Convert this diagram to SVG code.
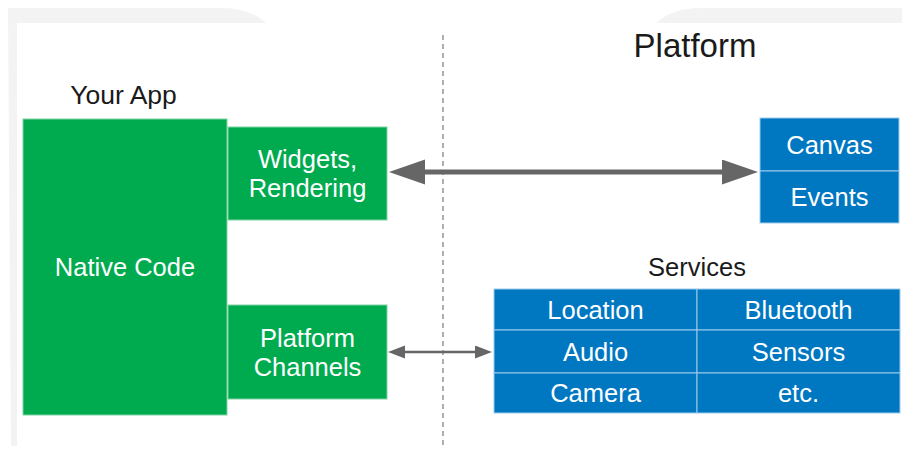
<svg xmlns="http://www.w3.org/2000/svg" width="902" height="449" viewBox="0 0 902 449">
<style>
.t{font-family:"Liberation Sans",Arial,sans-serif;font-size:25.5px;text-anchor:middle}
.w{fill:#ffffff}
.k{fill:#1a1a1a}
.g{fill:#00ab4f;stroke:#7fd3a2;stroke-width:1}
.b{fill:#0077c1;stroke:#9ccbeb;stroke-width:1}
.arr{stroke:#666666;fill:none}
</style>
<defs>
<marker id="bigHead" markerUnits="userSpaceOnUse" markerWidth="38" markerHeight="26" refX="2" refY="12.5" orient="auto-start-reverse" viewBox="0 0 38 26">
<path d="M0,0 L36,12.5 L0,25 Z" fill="#666666"/>
</marker>
<marker id="smallHead" markerUnits="userSpaceOnUse" markerWidth="18" markerHeight="14" refX="1" refY="6.5" orient="auto-start-reverse" viewBox="0 0 18 14">
<path d="M0,0 L17,6.5 L0,13 Z" fill="#666666"/>
</marker>
</defs>
<rect x="0" y="0" width="902" height="449" fill="#ffffff"/>
<g id="frame" fill="#f3f3f3">
<path d="M8,8 H222 Q250,8 266,23 H17 V446 H11 Z"/>
<path d="M656,23 Q672,8 702,8 H902 V23 Z"/>
</g>
<line x1="443" y1="35" x2="443" y2="449" stroke="#7a7a7a" stroke-width="1.2" stroke-dasharray="5,4"/>
<text class="t k" x="123.5" y="104" style="font-size:26.5px">Your App</text>
<text class="t k" x="695" y="57" style="font-size:33px">Platform</text>
<text class="t k" x="697" y="276">Services</text>
<g id="native-code">
<rect class="g" x="23" y="119" width="204" height="296"/>
<text class="t w" x="125" y="276">Native Code</text>
</g>
<g id="widgets-rendering">
<rect class="g" x="228" y="127" width="159" height="93"/>
<text class="t w" x="307.5" y="168">Widgets,</text>
<text class="t w" x="307.5" y="197">Rendering</text>
</g>
<g id="platform-channels">
<rect class="g" x="228" y="305" width="159" height="94"/>
<text class="t w" x="307.5" y="346.5">Platform</text>
<text class="t w" x="307.5" y="375.5">Channels</text>
</g>
<g id="canvas">
<rect class="b" x="760" y="118" width="139" height="53"/>
<text class="t w" x="829.5" y="153.5">Canvas</text>
</g>
<g id="events">
<rect class="b" x="760" y="171" width="139" height="52"/>
<text class="t w" x="829.5" y="206">Events</text>
</g>
<g id="location">
<rect class="b" x="494" y="289" width="203" height="41"/>
<text class="t w" x="595.5" y="318.5">Location</text>
</g>
<g id="bluetooth">
<rect class="b" x="697" y="289" width="203" height="41"/>
<text class="t w" x="798.5" y="318.5">Bluetooth</text>
</g>
<g id="audio">
<rect class="b" x="494" y="330" width="203" height="43"/>
<text class="t w" x="595.5" y="360.5">Audio</text>
</g>
<g id="sensors">
<rect class="b" x="697" y="330" width="203" height="43"/>
<text class="t w" x="798.5" y="360.5">Sensors</text>
</g>
<g id="camera">
<rect class="b" x="494" y="373" width="203" height="40"/>
<text class="t w" x="595.5" y="402">Camera</text>
</g>
<g id="etc">
<rect class="b" x="697" y="373" width="203" height="40"/>
<text class="t w" x="798.5" y="402">etc.</text>
</g>
<g id="connectors">
<line class="arr" x1="423" y1="172" x2="724" y2="172" stroke-width="5" marker-start="url(#bigHead)" marker-end="url(#bigHead)"/>
<line class="arr" x1="404" y1="352" x2="476" y2="352" stroke-width="2.5" marker-start="url(#smallHead)" marker-end="url(#smallHead)"/>
</g>
</svg>
